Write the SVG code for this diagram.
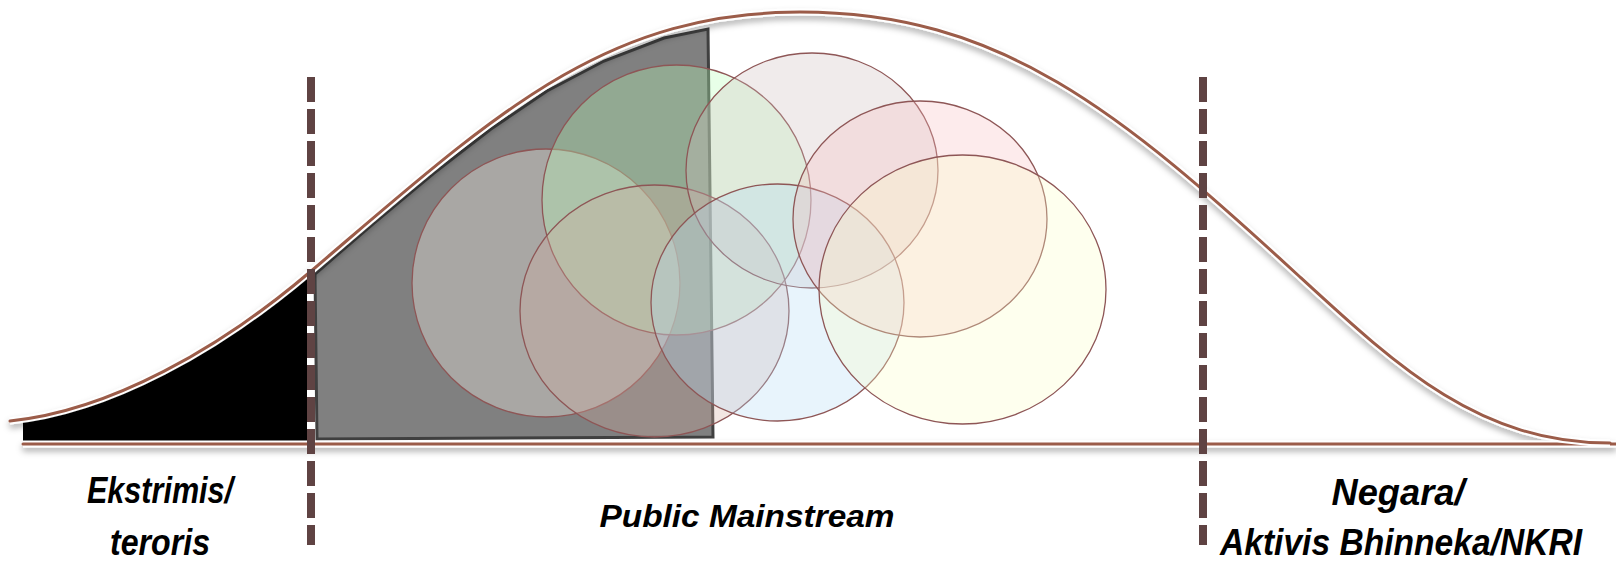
<svg xmlns="http://www.w3.org/2000/svg" width="1616" height="564" viewBox="0 0 1616 564">
<defs>
<style>
.lbl{font-family:"Liberation Sans","DejaVu Sans",Arial,sans-serif;font-weight:bold;font-style:italic;fill:#000;text-anchor:middle}
.big{font-size:36px}
.mid{font-size:31px}
.circ{stroke:#8E5656;stroke-width:1.3}
.dash{stroke:#5F4343;stroke-width:8;stroke-dasharray:25 7;fill:none}
.line{fill:none;stroke:#9B5B48;stroke-width:3;stroke-linecap:round}
.halo{fill:none;stroke:#fff;stroke-width:7}
</style>
<filter id="sh" x="-5%" y="-20%" width="110%" height="160%">
<feDropShadow dx="0" dy="4" stdDeviation="3" flood-color="#000" flood-opacity="0.3"/>
</filter>
<clipPath id="leftclip"><rect x="23" y="0" width="284" height="442"/></clipPath>
</defs>
<rect width="1616" height="564" fill="#fff"/>

<g id="extreme-area">
<path clip-path="url(#leftclip)" d="M10,421 C110,411 220,348.5 310,272 L310,442 L10,442 Z" fill="#000"/>
</g>

<g id="mainstream-area">
<path d="M315,274 L374,223 L434,173 L491,129 L547,91 L604,61 L664,38 L708,29 L713,437 L317,439 Z" fill="#808080" stroke="#404040" stroke-width="3" stroke-linejoin="miter"/>
</g>

<g id="circles">
<ellipse id="c-gray" class="circ" cx="546" cy="283" rx="134" ry="134" fill="#FFFAF0" fill-opacity="0.32"/>
<ellipse id="c-green" class="circ" cx="676.5" cy="200" rx="134.5" ry="135" fill="#B8FFB8" fill-opacity="0.32"/>
<ellipse id="c-brown" class="circ" cx="654.5" cy="311" rx="134.5" ry="126" fill="#D4AEA2" fill-opacity="0.31"/>
<ellipse id="c-top" class="circ" cx="812" cy="170.5" rx="126" ry="117.5" fill="#CDBCBC" fill-opacity="0.3"/>
<ellipse id="c-blue" class="circ" cx="777.5" cy="302.5" rx="126.5" ry="118.5" fill="#B2DAF5" fill-opacity="0.3"/>
<ellipse id="c-pink" class="circ" cx="920" cy="219" rx="127" ry="118" fill="#F8BCC0" fill-opacity="0.3"/>
<ellipse id="c-yellow" class="circ" cx="962.5" cy="289.5" rx="143.5" ry="134.5" fill="#FCFFC6" fill-opacity="0.3"/>
</g>

<g id="curve" filter="url(#sh)">
<line class="halo" x1="23" y1="444" x2="1616" y2="444" stroke-width="5"/>
<line class="line" x1="23" y1="444" x2="1616" y2="444"/>
<path class="halo" d="M10,421 C110,411 220,348.5 310,272 C490,119 600,12 800,12 C1000,12 1120,111 1300,277 C1400,369 1480,443 1610,443"/>
<path class="line" d="M10,421 C110,411 220,348.5 310,272 C490,119 600,12 800,12 C1000,12 1120,111 1300,277 C1400,369 1480,443 1610,443"/>
</g>

<g id="dividers">
<line class="dash" x1="311" y1="77" x2="311" y2="545"/>
<line class="dash" x1="1203" y1="77" x2="1203" y2="545"/>
</g>

<g id="label-extreme">
<text class="lbl big" x="160" y="503" textLength="146" lengthAdjust="spacingAndGlyphs">Ekstrimis/</text>
<text class="lbl big" x="160" y="555" textLength="100" lengthAdjust="spacingAndGlyphs">teroris</text>
</g>
<g id="label-mainstream">
<text class="lbl mid" x="747" y="527" textLength="295" lengthAdjust="spacingAndGlyphs">Public Mainstream</text>
</g>
<g id="label-state">
<text class="lbl big" x="1398" y="505" textLength="133" lengthAdjust="spacingAndGlyphs">Negara/</text>
<text class="lbl big" x="1401" y="555" textLength="362" lengthAdjust="spacingAndGlyphs">Aktivis Bhinneka/NKRI</text>
</g>
</svg>
